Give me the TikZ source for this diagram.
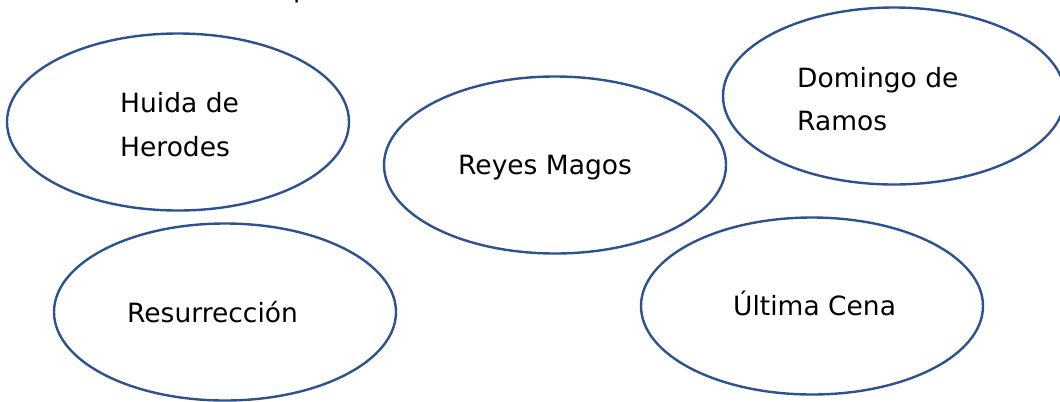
\documentclass[tikz,border=0pt]{standalone}
\usepackage{fontspec}
\setmainfont{DejaVu Sans}
\usetikzlibrary{shapes.geometric}
\definecolor{ovalblue}{RGB}{47,82,143}
\tikzset{
  oval/.style={ellipse, draw=ovalblue, line width=2.4bp, inner sep=0pt,
               minimum width=342bp, minimum height=177bp},
  lbl/.style={anchor=base west, inner sep=0pt, align=left,
              font=\fontsize{26.5bp}{44bp}\selectfont, text=black}
}
\begin{document}
\begin{tikzpicture}[x=1bp,y=-1bp]
\useasboundingbox (0,0) rectangle (1060,401);
\fill[white] (0,0) rectangle (1060,401);
% ovals
\node[oval] (huida) at (178,122) {};
\node[oval] (reyes) at (555,165) {};
\node[oval] (domingo) at (894,96) {};
\node[oval] (resu) at (225,312) {};
\node[oval] (cena) at (812,306) {};
% labels
\node[lbl] (thuida1) at (120,112) {Huida de};
\node[lbl] (thuida2) at (120,156) {Herodes};
\node[lbl] (treyes) at (458,174) {Reyes Magos};
\node[lbl] (tdom1) at (797,87) {Domingo de};
\node[lbl] (tdom2) at (797,130) {Ramos};
\node[lbl] (tresu) at (127,322) {Resurrección};
\node[lbl] (tcena) at (733,315) {Última Cena};
% clipped fragment of a line above the picture
\node[lbl] (frag) at (293,-3) {p};
\end{tikzpicture}
\end{document}
